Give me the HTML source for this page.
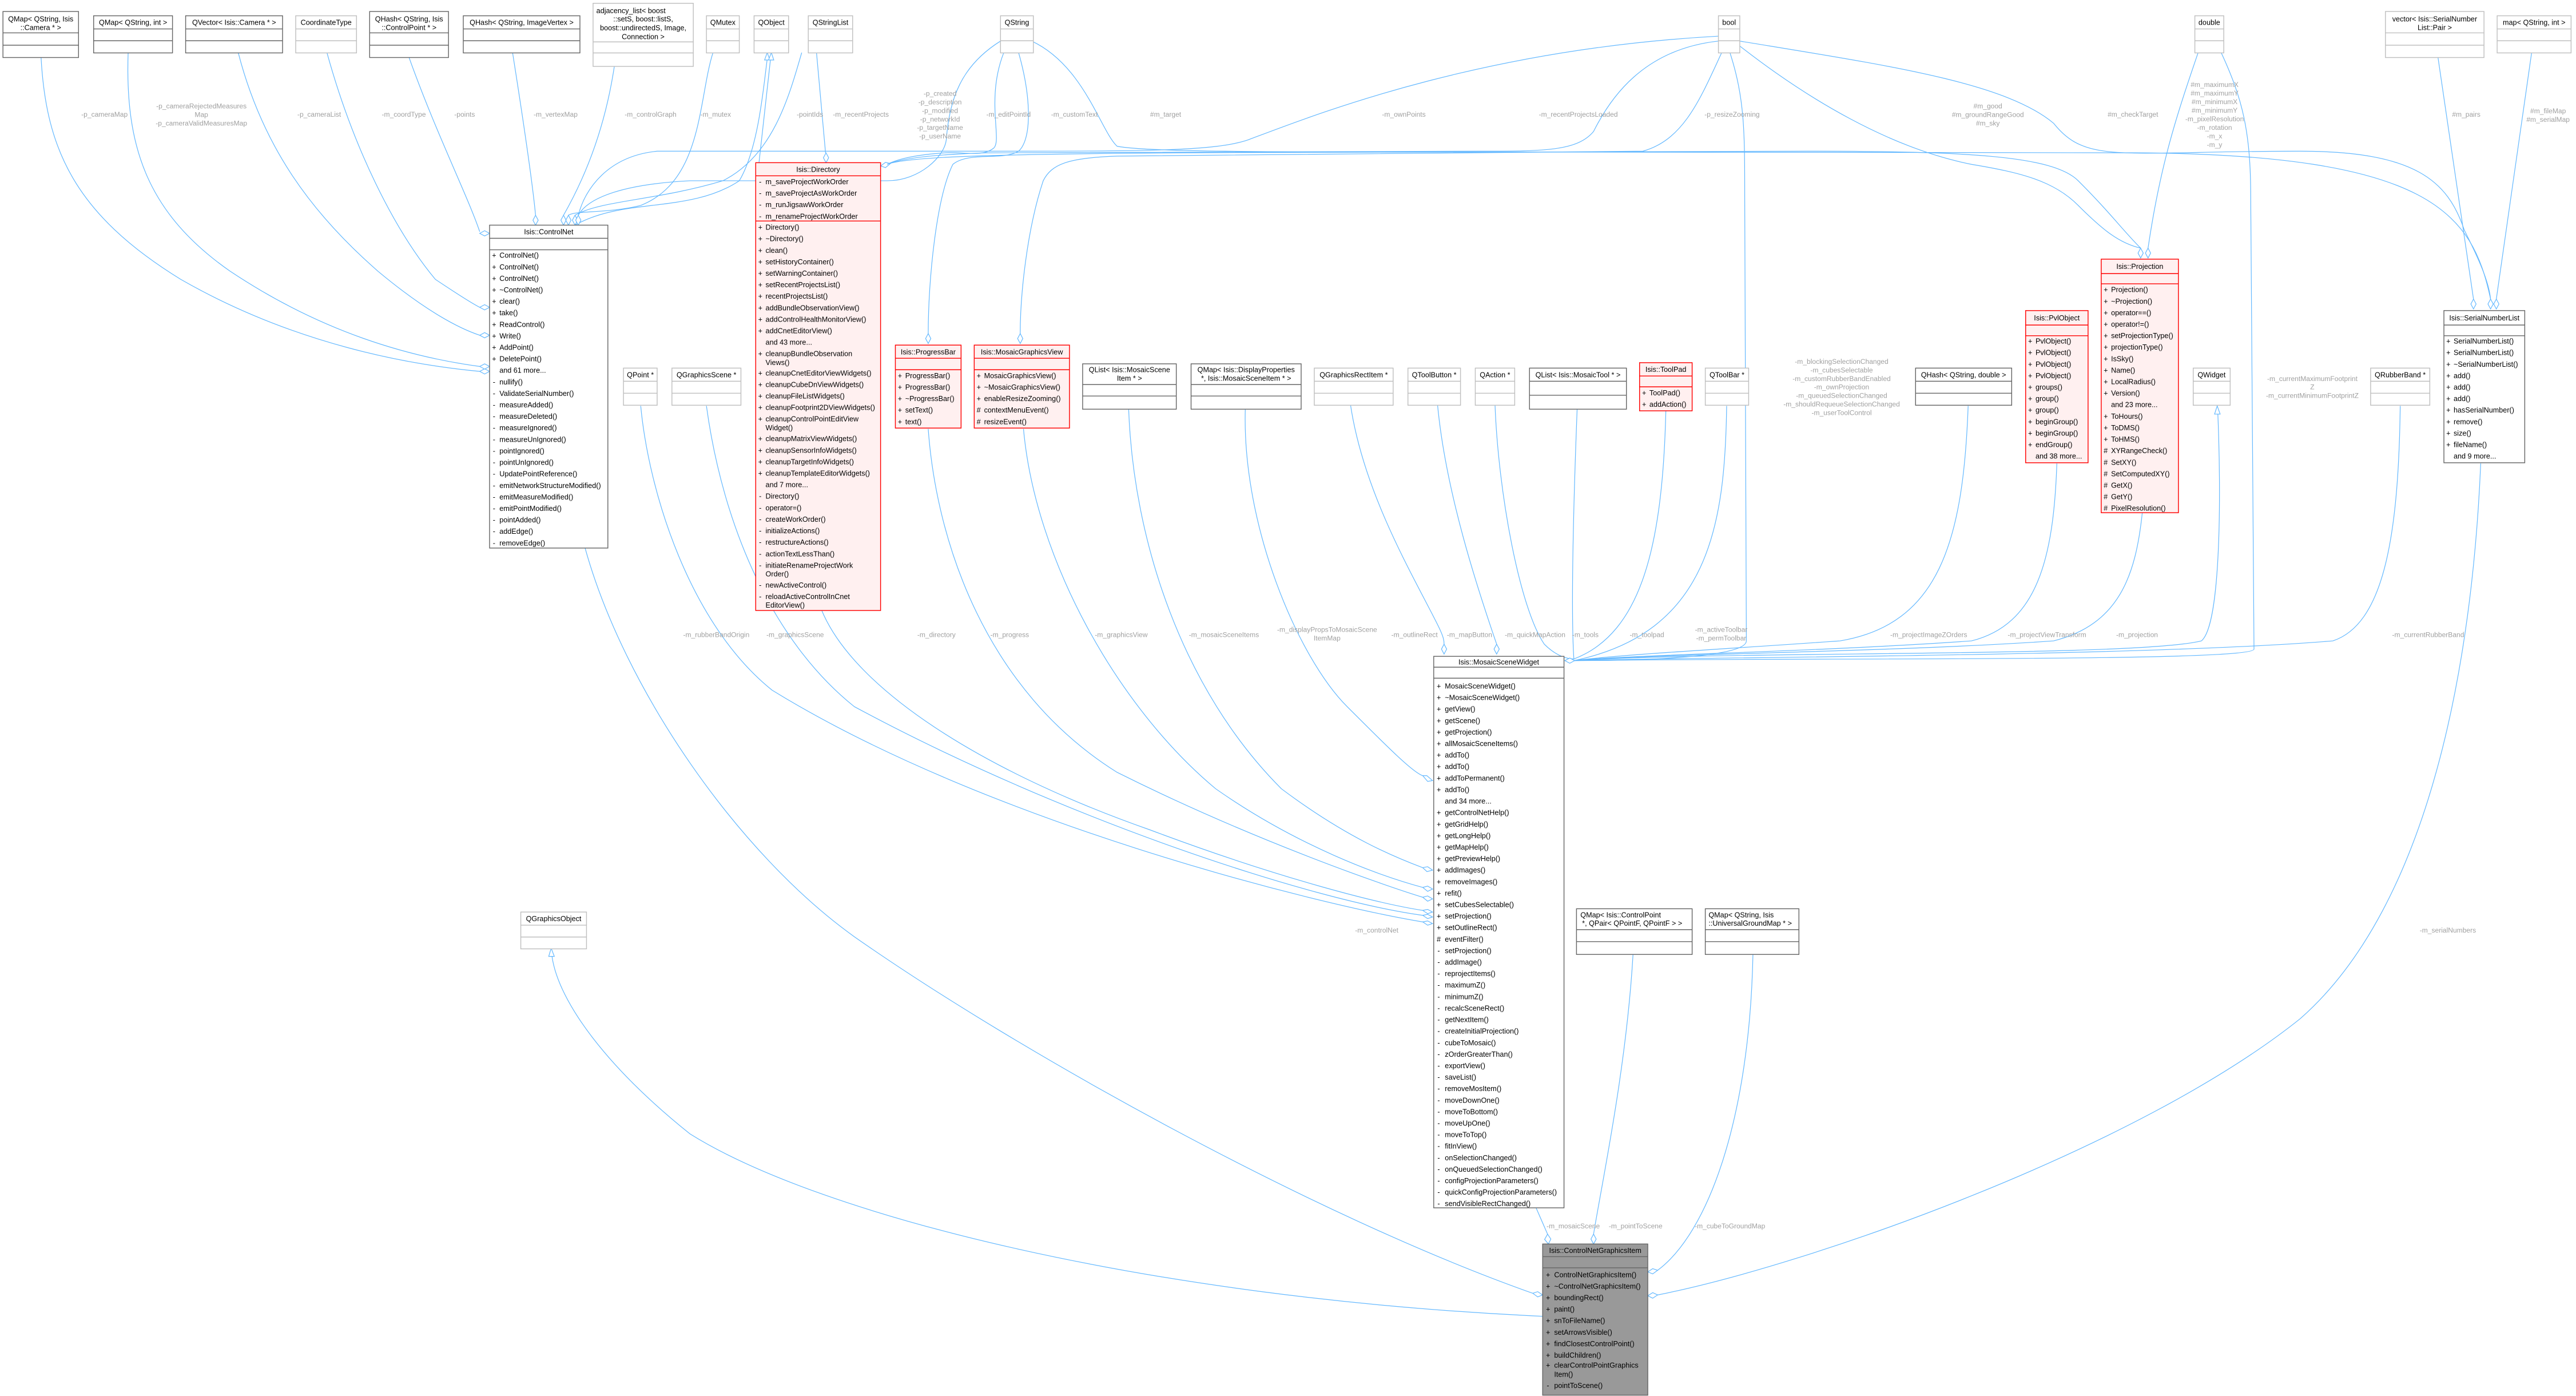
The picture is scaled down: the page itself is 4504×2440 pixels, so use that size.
<!DOCTYPE html>
<html><head><meta charset="utf-8"><style>
html,body{margin:0;padding:0;background:#fff;}
svg{display:block;}
text{font-family:"Liberation Sans",sans-serif;font-size:4.4px;fill:#000;}
.h{text-anchor:middle;}
.l{fill:#a0a0a0;text-anchor:middle;font-size:4.2px;}
.e{fill:none;stroke:#63b8ff;stroke-width:0.42;}
.dm{fill:#fff;stroke:#63b8ff;stroke-width:0.42;}
.bd{fill:#fff;stroke:#666;stroke-width:0.5;}
.bl{fill:#fff;stroke:#bfbfbf;stroke-width:0.5;}
.br{fill:#fff0f0;stroke:#ff0000;stroke-width:0.5;}
.bg{fill:#999;stroke:#666;stroke-width:0.5;}
.sd{stroke:#666;stroke-width:0.5;}
.sl{stroke:#bfbfbf;stroke-width:0.5;}
.sr{stroke:#ff0000;stroke-width:0.5;}
</style></head><body>
<svg width="4504" height="2440" viewBox="0 0 1568 849.5" preserveAspectRatio="none" xmlns="http://www.w3.org/2000/svg">

<!-- ================= EDGES ================= -->
<g>
<path class="e" d="M25,35 C28,90 45,130 110,170 C180,210 250,222 292,226"/>
<polygon class="dm" points="298,226 295,224.4 292,226 295,227.6"/>
<path class="e" d="M78,32 C76,90 90,130 140,165 C200,205 255,218 292,223"/>
<polygon class="dm" points="298,223 295,221.4 292,223 295,224.6"/>
<path class="e" d="M145,32 C160,90 190,130 230,165 C260,190 280,200 292,204"/>
<polygon class="dm" points="298,204 295,202.4 292,204 295,205.6"/>
<path class="e" d="M199,32 C215,90 240,140 265,170 C280,180 288,185 292,187"/>
<polygon class="dm" points="298,187 295,185.4 292,187 295,188.6"/>
<path class="e" d="M249,35 C265,80 285,120 292,141"/>
<polygon class="dm" points="298,142 295,140.4 292,142 295,143.6"/>
<path class="e" d="M312,32 C318,70 324,110 326,131"/>
<polygon class="dm" points="326,137 324.4,134 326,131 327.6,134"/>
<path class="e" d="M374,40 C368,80 355,110 343,131"/>
<polygon class="dm" points="343,137 341.4,134 343,131 344.6,134"/>
<path class="e" d="M434,32 C425,60 428,110 390,125 C370,130 350,128 346,131"/>
<polygon class="dm" points="346,137 344.4,134 346,131 347.6,134"/>
<path class="e" d="M350,137 C380,120 420,130 450,110 C462,90 465,50 467,36"/>
<polygon class="dm" points="467,32 465.4,36.5 468.6,36.5"/>
<path class="e" d="M462,99 L469,36"/>
<polygon class="dm" points="469.5,32 467.8,36.5 471,36.5"/>
<path class="e" d="M488,32 C480,60 470,95 440,110 C400,122 365,122 350,131"/>
<polygon class="dm" points="350,137 348.4,134 350,131 351.6,134"/>
<path class="e" d="M497,32 L502.5,93"/>
<polygon class="dm" points="502.8,99 501.2,96 502.8,93 504.4,96"/>
<path class="e" d="M609,25 C585,40 578,60 576,85 C575,95 560,110 540,110 L420,110 C380,112 358,120 352,131"/>
<polygon class="dm" points="352,137 350.4,134 352,131 353.6,134"/>
<path class="e" d="M611,32 C600,60 610,85 605,90 C598,96 585,92 575,93 C560,94 548,96 540,100"/>
<polygon class="dm" points="536,101 539,98.8 542,99.5 539,102"/>
<path class="e" d="M620,32 C628,60 628,85 620,92 C610,98 590,92 580,100 C570,120 565,170 565,203"/>
<polygon class="dm" points="565,209 563.4,206 565,203 566.6,206"/>
<path class="e" d="M628,25 C660,40 670,80 680,89 C700,93 800,93 1100,92 C1200,92 1250,95 1265,110 C1285,130 1292,140 1303,151"/>
<polygon class="dm" points="1303,157 1301.4,154 1303,151 1304.6,154"/>
<path class="e" d="M1046,22 C900,30 800,70 760,85 C740,92 700,92 600,92 L400,92 C370,95 356,115 352,131"/>
<path class="e" d="M1046,25 C1000,30 980,60 970,80 C960,92 940,92 900,92 L600,93 C570,94 550,96 540,100"/>
<path class="e" d="M1048,32 C1035,60 1025,85 1000,92 L680,95 C650,96 640,100 635,110 C625,140 621,180 621,203"/>
<polygon class="dm" points="621,209 619.4,206 621,203 622.6,206"/>
<path class="e" d="M1059,28 C1100,60 1150,90 1200,100 C1230,105 1250,110 1265,125 C1280,140 1290,148 1303,151"/>
<path class="e" d="M1059,25 C1150,40 1220,50 1250,75 C1270,100 1290,92 1400,92 C1470,92 1490,110 1500,140 C1510,160 1515,172 1516,182"/>
<path class="e" d="M540,100 C560,92 700,92 1300,93 C1480,94 1505,130 1516,182"/>
<polygon class="dm" points="1516,188 1514.4,185 1516,182 1517.6,185"/>
<path class="e" d="M1053,32 C1062,60 1062,80 1062,120 L1063,390 C1063,400 1000,402 958,402"/>
<path class="e" d="M1338,32 C1325,70 1315,100 1307.5,151"/>
<polygon class="dm" points="1307.5,157 1305.9,154 1307.5,151 1309.1,154"/>
<path class="e" d="M1352,32 C1365,60 1370,80 1370,120 L1372,395 C1372,403 1100,400 958,402"/>
<path class="e" d="M1484,35 L1505.6,182"/>
<polygon class="dm" points="1505.6,188 1504,185 1505.6,182 1507.2,185"/>
<path class="e" d="M1541,32 L1519.5,182"/>
<polygon class="dm" points="1519.5,188 1517.9,185 1519.5,182 1521.1,185"/>

<!-- to MosaicSceneWidget -->
<path class="e" d="M390,247 C395,300 420,380 470,420 C600,500 800,550 866,561"/>
<polygon class="dm" points="872,562 869,560.4 866,561 869,563"/>
<path class="e" d="M430,247 C440,320 470,390 520,430 C650,500 800,548 866,557"/>
<polygon class="dm" points="872,558 869,556.4 866,557 869,559"/>
<path class="e" d="M500,371 C520,420 600,470 700,505 C780,535 840,550 866,554"/>
<polygon class="dm" points="872,555 869,553.4 866,554 869,556"/>
<path class="e" d="M565,261 C570,330 600,420 680,470 C760,510 840,538 866,546"/>
<polygon class="dm" points="872,547 869,545.2 866,546 869,548.4"/>
<path class="e" d="M623,261 C630,340 680,430 740,480 C790,515 840,533 866,540"/>
<polygon class="dm" points="872,541 869,539.2 866,540 869,542.4"/>
<path class="e" d="M687,249 C690,330 720,420 780,480 C820,510 850,522 866,528"/>
<polygon class="dm" points="872,529.5 869,527.4 866,528 868.6,530.4"/>
<path class="e" d="M758,249 C756,320 790,400 820,430 C845,455 860,470 866,472"/>
<polygon class="dm" points="872,475 868.5,472 866,472 869,475.5"/>
<path class="e" d="M822,246 C830,300 860,350 875,380 C879,388 879,390 879,392"/>
<polygon class="dm" points="879,398 877.4,395 879,392 880.6,395"/>
<path class="e" d="M875,246 C880,300 900,360 911,392"/>
<polygon class="dm" points="911,398 909.4,395 911,392 912.6,395"/>
<path class="e" d="M910,246 C912,300 925,370 940,392 C948,400 955,401 958,401"/>
<path class="e" d="M960,249 C958,300 956,370 958,401"/>
<path class="e" d="M1014,250 C1012,330 1000,385 958,401"/>
<path class="e" d="M1051,247 C1050,320 1040,385 958,402"/>
<path class="e" d="M1198,247 C1195,330 1180,380 1120,390 C1050,395 990,398 958,402"/>
<path class="e" d="M1252,282 C1250,340 1240,380 1200,390 C1100,397 1000,398 958,402"/>
<path class="e" d="M1304,312 C1300,350 1290,380 1250,390 C1150,397 1000,398 958,402"/>
<path class="e" d="M958,402 C1050,396 1300,400 1340,390 C1352,380 1352,300 1350,252"/>
<polygon class="dm" points="1349.6,247 1348,252 1351.4,252"/>
<path class="e" d="M1461,247 C1460,330 1450,380 1420,390 C1300,400 1000,400 958,402"/>
<polygon class="dm" points="952.5,402 955.5,400.4 958.5,402 955.5,403.6"/>

<!-- to ControlNetGraphicsItem -->
<path class="e" d="M356,333 C380,420 450,520 520,570 C620,640 800,740 933,787"/>
<polygon class="dm" points="939,788 936,786 933,787 936,789.2"/>
<path class="e" d="M939,801 C700,790 500,740 420,690 C370,650 340,610 336,582"/>
<polygon class="dm" points="335.5,577 334,582 337.4,582"/>
<path class="e" d="M935,735 L942,751"/>
<polygon class="dm" points="942.5,757 940.2,754.2 942,751 944,754"/>
<path class="e" d="M994,581 C990,650 975,720 970,751"/>
<polygon class="dm" points="970,757 968.4,754 970,751 971.6,754"/>
<path class="e" d="M1067,581 C1065,680 1040,750 1009,773"/>
<polygon class="dm" points="1003,774 1006,772 1009,773 1006,775.2"/>
<path class="e" d="M1510,282 C1505,400 1480,550 1400,620 C1300,700 1100,770 1009,788"/>
<polygon class="dm" points="1003,788.5 1006,786.6 1009,788 1006,790"/>
</g>

<!-- ================= EDGE LABELS ================= -->
<g>
<text class="l" x="63.6" y="71">-p_cameraMap</text>
<text class="l" x="122.6" y="66">-p_cameraRejectedMeasures</text>
<text class="l" x="122.6" y="71.2">Map</text>
<text class="l" x="122.6" y="76.4">-p_cameraValidMeasuresMap</text>
<text class="l" x="194.3" y="71">-p_cameraList</text>
<text class="l" x="245.8" y="71">-m_coordType</text>
<text class="l" x="282.8" y="71">-points</text>
<text class="l" x="338.2" y="71">-m_vertexMap</text>
<text class="l" x="396" y="71">-m_controlGraph</text>
<text class="l" x="435.6" y="71">-m_mutex</text>
<text class="l" x="493" y="71">-pointIds</text>
<text class="l" x="524" y="71">-m_recentProjects</text>
<text class="l" x="572.2" y="58.3">-p_created</text>
<text class="l" x="572.2" y="63.5">-p_description</text>
<text class="l" x="572.2" y="68.7">-p_modified</text>
<text class="l" x="572.2" y="73.9">-p_networkId</text>
<text class="l" x="572.2" y="79.1">-p_targetName</text>
<text class="l" x="572.2" y="84.3">-p_userName</text>
<text class="l" x="613.9" y="71">-m_editPointId</text>
<text class="l" x="654" y="71">-m_customText</text>
<text class="l" x="709.5" y="71">#m_target</text>
<text class="l" x="854.5" y="71">-m_ownPoints</text>
<text class="l" x="960.7" y="71">-m_recentProjectsLoaded</text>
<text class="l" x="1054.3" y="71">-p_resizeZooming</text>
<text class="l" x="1210" y="66">#m_good</text>
<text class="l" x="1210" y="71.2">#m_groundRangeGood</text>
<text class="l" x="1210" y="76.4">#m_sky</text>
<text class="l" x="1298.3" y="71">#m_checkTarget</text>
<text class="l" x="1348" y="53">#m_maximumX</text>
<text class="l" x="1348" y="58.2">#m_maximumY</text>
<text class="l" x="1348" y="63.4">#m_minimumX</text>
<text class="l" x="1348" y="68.6">#m_minimumY</text>
<text class="l" x="1348" y="73.8">-m_pixelResolution</text>
<text class="l" x="1348" y="79">-m_rotation</text>
<text class="l" x="1348" y="84.2">-m_x</text>
<text class="l" x="1348" y="89.4">-m_y</text>
<text class="l" x="1501.2" y="71">#m_pairs</text>
<text class="l" x="1551" y="69">#m_fileMap</text>
<text class="l" x="1551" y="74.2">#m_serialMap</text>
<text class="l" x="1121" y="221.4">-m_blockingSelectionChanged</text>
<text class="l" x="1121" y="226.6">-m_cubesSelectable</text>
<text class="l" x="1121" y="231.8">-m_customRubberBandEnabled</text>
<text class="l" x="1121" y="237">-m_ownProjection</text>
<text class="l" x="1121" y="242.2">-m_queuedSelectionChanged</text>
<text class="l" x="1121" y="247.4">-m_shouldRequeueSelectionChanged</text>
<text class="l" x="1121" y="252.6">-m_userToolControl</text>
<text class="l" x="1407.5" y="231.8">-m_currentMaximumFootprint</text>
<text class="l" x="1407.5" y="237">Z</text>
<text class="l" x="1407.5" y="242.2">-m_currentMinimumFootprintZ</text>
<text class="l" x="436" y="387.7">-m_rubberBandOrigin</text>
<text class="l" x="484" y="387.7">-m_graphicsScene</text>
<text class="l" x="570" y="387.7">-m_directory</text>
<text class="l" x="614.6" y="387.7">-m_progress</text>
<text class="l" x="682.5" y="387.7">-m_graphicsView</text>
<text class="l" x="745" y="387.7">-m_mosaicSceneItems</text>
<text class="l" x="807.8" y="384.5">-m_displayPropsToMosaicScene</text>
<text class="l" x="807.8" y="389.7">ItemMap</text>
<text class="l" x="861" y="387.7">-m_outlineRect</text>
<text class="l" x="894.5" y="387.7">-m_mapButton</text>
<text class="l" x="934.4" y="387.7">-m_quickMapAction</text>
<text class="l" x="965" y="387.7">-m_tools</text>
<text class="l" x="1002.5" y="387.7">-m_toolpad</text>
<text class="l" x="1047.7" y="384.5">-m_activeToolbar</text>
<text class="l" x="1047.7" y="389.7">-m_permToolbar</text>
<text class="l" x="1174" y="387.7">-m_projectImageZOrders</text>
<text class="l" x="1246" y="387.7">-m_projectViewTransform</text>
<text class="l" x="1300.8" y="387.7">-m_projection</text>
<text class="l" x="1478" y="387.7">-m_currentRubberBand</text>
<text class="l" x="838" y="567.5">-m_controlNet</text>
<text class="l" x="1490" y="567.5">-m_serialNumbers</text>
<text class="l" x="957.6" y="747.5">-m_mosaicScene</text>
<text class="l" x="995.6" y="747.5">-m_pointToScene</text>
<text class="l" x="1053" y="747.5">-m_cubeToGroundMap</text>
</g>

<!-- ================= TOP ROW BOXES ================= -->
<g>
<rect class="bd" x="1.8" y="7" width="46" height="28"/>
<line class="sd" x1="1.8" y1="20" x2="47.8" y2="20"/><line class="sd" x1="1.8" y1="27.5" x2="47.8" y2="27.5"/>
<text class="h" x="24.8" y="13">QMap&lt; QString, Isis</text><text class="h" x="24.8" y="18.3">::Camera * &gt;</text>

<rect class="bd" x="57" y="9.6" width="48" height="22.6"/>
<line class="sd" x1="57" y1="17.6" x2="105" y2="17.6"/><line class="sd" x1="57" y1="24.8" x2="105" y2="24.8"/>
<text class="h" x="81" y="15.2">QMap&lt; QString, int &gt;</text>

<rect class="bd" x="113" y="9.6" width="59" height="22.6"/>
<line class="sd" x1="113" y1="17.6" x2="172" y2="17.6"/><line class="sd" x1="113" y1="24.8" x2="172" y2="24.8"/>
<text class="h" x="142.5" y="15.2">QVector&lt; Isis::Camera * &gt;</text>

<rect class="bl" x="180" y="9.6" width="37" height="22.6"/>
<line class="sl" x1="180" y1="17.6" x2="217" y2="17.6"/><line class="sl" x1="180" y1="24.8" x2="217" y2="24.8"/>
<text class="h" x="198.5" y="15.2">CoordinateType</text>

<rect class="bd" x="225" y="7" width="48" height="28"/>
<line class="sd" x1="225" y1="20" x2="273" y2="20"/><line class="sd" x1="225" y1="27.5" x2="273" y2="27.5"/>
<text class="h" x="249" y="13">QHash&lt; QString, Isis</text><text class="h" x="249" y="18.3">::ControlPoint * &gt;</text>

<rect class="bd" x="282" y="9.6" width="71" height="22.6"/>
<line class="sd" x1="282" y1="17.6" x2="353" y2="17.6"/><line class="sd" x1="282" y1="24.8" x2="353" y2="24.8"/>
<text class="h" x="317.5" y="15.2">QHash&lt; QString, ImageVertex &gt;</text>

<rect class="bl" x="361" y="2" width="61" height="38.4"/>
<line class="sl" x1="361" y1="25.5" x2="422" y2="25.5"/><line class="sl" x1="361" y1="32.2" x2="422" y2="32.2"/>
<text x="363" y="8">adjacency_list&lt; boost</text>
<text class="h" x="391.5" y="13.1">::setS, boost::listS,</text>
<text class="h" x="391.5" y="18.5">boost::undirectedS, Image,</text>
<text class="h" x="391.5" y="23.8">Connection &gt;</text>

<rect class="bl" x="430" y="9.6" width="20" height="22.6"/>
<line class="sl" x1="430" y1="17.6" x2="450" y2="17.6"/><line class="sl" x1="430" y1="24.8" x2="450" y2="24.8"/>
<text class="h" x="440" y="15.2">QMutex</text>

<rect class="bl" x="459" y="9.6" width="21" height="22.6"/>
<line class="sl" x1="459" y1="17.6" x2="480" y2="17.6"/><line class="sl" x1="459" y1="24.8" x2="480" y2="24.8"/>
<text class="h" x="469.5" y="15.2">QObject</text>

<rect class="bl" x="492" y="9.6" width="27" height="22.6"/>
<line class="sl" x1="492" y1="17.6" x2="519" y2="17.6"/><line class="sl" x1="492" y1="24.8" x2="519" y2="24.8"/>
<text class="h" x="505.5" y="15.2">QStringList</text>

<rect class="bl" x="609" y="9.6" width="20" height="22.6"/>
<line class="sl" x1="609" y1="17.6" x2="629" y2="17.6"/><line class="sl" x1="609" y1="24.8" x2="629" y2="24.8"/>
<text class="h" x="619" y="15.2">QString</text>

<rect class="bl" x="1046" y="9.6" width="13" height="22.6"/>
<line class="sl" x1="1046" y1="17.6" x2="1059" y2="17.6"/><line class="sl" x1="1046" y1="24.8" x2="1059" y2="24.8"/>
<text class="h" x="1052.5" y="15.2">bool</text>

<rect class="bl" x="1336" y="9.6" width="17.6" height="22.6"/>
<line class="sl" x1="1336" y1="17.6" x2="1353.6" y2="17.6"/><line class="sl" x1="1336" y1="24.8" x2="1353.6" y2="24.8"/>
<text class="h" x="1344.8" y="15.2">double</text>

<rect class="bl" x="1452" y="7" width="60" height="28"/>
<line class="sl" x1="1452" y1="20" x2="1512" y2="20"/><line class="sl" x1="1452" y1="27.5" x2="1512" y2="27.5"/>
<text class="h" x="1482" y="13">vector&lt; Isis::SerialNumber</text><text class="h" x="1482" y="18.3">List::Pair &gt;</text>

<rect class="bl" x="1520" y="9.6" width="45" height="22.6"/>
<line class="sl" x1="1520" y1="17.6" x2="1565" y2="17.6"/><line class="sl" x1="1520" y1="24.8" x2="1565" y2="24.8"/>
<text class="h" x="1542.5" y="15.2">map&lt; QString, int &gt;</text>
</g>

<!-- ================= ControlNet ================= -->
<g>
<rect class="bd" x="298" y="137" width="72" height="196.5"/>
<line class="sd" x1="298" y1="145" x2="370" y2="145"/><line class="sd" x1="298" y1="152" x2="370" y2="152"/>
<text class="h" x="334" y="142.6">Isis::ControlNet</text>
<text x="299.5" y="156.9">+</text><text x="304" y="156.9">ControlNet()</text>
<text x="299.5" y="163.9">+</text><text x="304" y="163.9">ControlNet()</text>
<text x="299.5" y="170.9">+</text><text x="304" y="170.9">ControlNet()</text>
<text x="299.5" y="177.9">+</text><text x="304" y="177.9">~ControlNet()</text>
<text x="299.5" y="184.9">+</text><text x="304" y="184.9">clear()</text>
<text x="299.5" y="191.9">+</text><text x="304" y="191.9">take()</text>
<text x="299.5" y="198.9">+</text><text x="304" y="198.9">ReadControl()</text>
<text x="299.5" y="205.9">+</text><text x="304" y="205.9">Write()</text>
<text x="299.5" y="212.9">+</text><text x="304" y="212.9">AddPoint()</text>
<text x="299.5" y="219.9">+</text><text x="304" y="219.9">DeletePoint()</text>
<text x="304" y="226.9">and 61 more...</text>
<text x="300" y="233.9">-</text><text x="304" y="233.9">nullify()</text>
<text x="300" y="240.9">-</text><text x="304" y="240.9">ValidateSerialNumber()</text>
<text x="300" y="247.9">-</text><text x="304" y="247.9">measureAdded()</text>
<text x="300" y="254.9">-</text><text x="304" y="254.9">measureDeleted()</text>
<text x="300" y="261.9">-</text><text x="304" y="261.9">measureIgnored()</text>
<text x="300" y="268.9">-</text><text x="304" y="268.9">measureUnIgnored()</text>
<text x="300" y="275.9">-</text><text x="304" y="275.9">pointIgnored()</text>
<text x="300" y="282.9">-</text><text x="304" y="282.9">pointUnIgnored()</text>
<text x="300" y="289.9">-</text><text x="304" y="289.9">UpdatePointReference()</text>
<text x="300" y="296.9">-</text><text x="304" y="296.9">emitNetworkStructureModified()</text>
<text x="300" y="303.9">-</text><text x="304" y="303.9">emitMeasureModified()</text>
<text x="300" y="310.9">-</text><text x="304" y="310.9">emitPointModified()</text>
<text x="300" y="317.9">-</text><text x="304" y="317.9">pointAdded()</text>
<text x="300" y="324.9">-</text><text x="304" y="324.9">addEdge()</text>
<text x="300" y="331.9">-</text><text x="304" y="331.9">removeEdge()</text>
</g>

<!-- ================= Directory ================= -->
<g>
<rect class="br" x="460" y="99" width="76" height="272.5"/>
<line class="sr" x1="460" y1="107" x2="536" y2="107"/><line class="sr" x1="460" y1="134.5" x2="536" y2="134.5"/>
<text class="h" x="498" y="104.6">Isis::Directory</text>
<text x="462" y="112.1">-</text><text x="466" y="112.1">m_saveProjectWorkOrder</text>
<text x="462" y="119.1">-</text><text x="466" y="119.1">m_saveProjectAsWorkOrder</text>
<text x="462" y="126.1">-</text><text x="466" y="126.1">m_runJigsawWorkOrder</text>
<text x="462" y="133.1">-</text><text x="466" y="133.1">m_renameProjectWorkOrder</text>
<text x="461.5" y="139.8">+</text><text x="466" y="139.8">Directory()</text>
<text x="461.5" y="146.8">+</text><text x="466" y="146.8">~Directory()</text>
<text x="461.5" y="153.8">+</text><text x="466" y="153.8">clean()</text>
<text x="461.5" y="160.8">+</text><text x="466" y="160.8">setHistoryContainer()</text>
<text x="461.5" y="167.8">+</text><text x="466" y="167.8">setWarningContainer()</text>
<text x="461.5" y="174.8">+</text><text x="466" y="174.8">setRecentProjectsList()</text>
<text x="461.5" y="181.8">+</text><text x="466" y="181.8">recentProjectsList()</text>
<text x="461.5" y="188.8">+</text><text x="466" y="188.8">addBundleObservationView()</text>
<text x="461.5" y="195.8">+</text><text x="466" y="195.8">addControlHealthMonitorView()</text>
<text x="461.5" y="202.8">+</text><text x="466" y="202.8">addCnetEditorView()</text>
<text x="466" y="209.8">and 43 more...</text>
<text x="461.5" y="216.8">+</text><text x="466" y="216.8">cleanupBundleObservation</text><text x="466" y="222.1">Views()</text>
<text x="461.5" y="228.5">+</text><text x="466" y="228.5">cleanupCnetEditorViewWidgets()</text>
<text x="461.5" y="235.5">+</text><text x="466" y="235.5">cleanupCubeDnViewWidgets()</text>
<text x="461.5" y="242.5">+</text><text x="466" y="242.5">cleanupFileListWidgets()</text>
<text x="461.5" y="249.5">+</text><text x="466" y="249.5">cleanupFootprint2DViewWidgets()</text>
<text x="461.5" y="256.5">+</text><text x="466" y="256.5">cleanupControlPointEditView</text><text x="466" y="261.8">Widget()</text>
<text x="461.5" y="268.5">+</text><text x="466" y="268.5">cleanupMatrixViewWidgets()</text>
<text x="461.5" y="275.5">+</text><text x="466" y="275.5">cleanupSensorInfoWidgets()</text>
<text x="461.5" y="282.5">+</text><text x="466" y="282.5">cleanupTargetInfoWidgets()</text>
<text x="461.5" y="289.5">+</text><text x="466" y="289.5">cleanupTemplateEditorWidgets()</text>
<text x="466" y="296.5">and 7 more...</text>
<text x="462" y="303.5">-</text><text x="466" y="303.5">Directory()</text>
<text x="462" y="310.5">-</text><text x="466" y="310.5">operator=()</text>
<text x="462" y="317.5">-</text><text x="466" y="317.5">createWorkOrder()</text>
<text x="462" y="324.5">-</text><text x="466" y="324.5">initializeActions()</text>
<text x="462" y="331.5">-</text><text x="466" y="331.5">restructureActions()</text>
<text x="462" y="338.5">-</text><text x="466" y="338.5">actionTextLessThan()</text>
<text x="462" y="345.5">-</text><text x="466" y="345.5">initiateRenameProjectWork</text><text x="466" y="350.8">Order()</text>
<text x="462" y="357.5">-</text><text x="466" y="357.5">newActiveControl()</text>
<text x="462" y="364.5">-</text><text x="466" y="364.5">reloadActiveControlInCnet</text><text x="466" y="369.8">EditorView()</text>
</g>

<!-- ================= ProgressBar / MosaicGraphicsView ================= -->
<g>
<rect class="br" x="545" y="210" width="40" height="50.5"/>
<line class="sr" x1="545" y1="218" x2="585" y2="218"/><line class="sr" x1="545" y1="225" x2="585" y2="225"/>
<text class="h" x="565" y="215.6">Isis::ProgressBar</text>
<text x="546.5" y="230.1">+</text><text x="551" y="230.1">ProgressBar()</text>
<text x="546.5" y="237.1">+</text><text x="551" y="237.1">ProgressBar()</text>
<text x="546.5" y="244.1">+</text><text x="551" y="244.1">~ProgressBar()</text>
<text x="546.5" y="251.1">+</text><text x="551" y="251.1">setText()</text>
<text x="546.5" y="258.1">+</text><text x="551" y="258.1">text()</text>

<rect class="br" x="593" y="210" width="58" height="50.5"/>
<line class="sr" x1="593" y1="218" x2="651" y2="218"/><line class="sr" x1="593" y1="225" x2="651" y2="225"/>
<text class="h" x="622" y="215.6">Isis::MosaicGraphicsView</text>
<text x="594.5" y="230.1">+</text><text x="599" y="230.1">MosaicGraphicsView()</text>
<text x="594.5" y="237.1">+</text><text x="599" y="237.1">~MosaicGraphicsView()</text>
<text x="594.5" y="244.1">+</text><text x="599" y="244.1">enableResizeZooming()</text>
<text x="594.5" y="251.1">#</text><text x="599" y="251.1">contextMenuEvent()</text>
<text x="594.5" y="258.1">#</text><text x="599" y="258.1">resizeEvent()</text>
</g>

<!-- ================= middle row small boxes ================= -->
<g>
<rect class="bl" x="379.5" y="224" width="20.5" height="22.6"/>
<line class="sl" x1="379.5" y1="232" x2="400" y2="232"/><line class="sl" x1="379.5" y1="239.3" x2="400" y2="239.3"/>
<text class="h" x="389.8" y="229.6">QPoint *</text>

<rect class="bl" x="409" y="224" width="42" height="22.6"/>
<line class="sl" x1="409" y1="232" x2="451" y2="232"/><line class="sl" x1="409" y1="239.3" x2="451" y2="239.3"/>
<text class="h" x="430" y="229.6">QGraphicsScene *</text>

<rect class="bd" x="659" y="221.4" width="57" height="27.6"/>
<line class="sd" x1="659" y1="234" x2="716" y2="234"/><line class="sd" x1="659" y1="241" x2="716" y2="241"/>
<text class="h" x="687.5" y="226.5">QList&lt; Isis::MosaicScene</text><text class="h" x="687.5" y="231.7">Item * &gt;</text>

<rect class="bd" x="725" y="221.4" width="67" height="27.6"/>
<line class="sd" x1="725" y1="234" x2="792" y2="234"/><line class="sd" x1="725" y1="241" x2="792" y2="241"/>
<text class="h" x="758.5" y="226.5">QMap&lt; Isis::DisplayProperties</text><text class="h" x="758.5" y="231.7">*, Isis::MosaicSceneItem * &gt;</text>

<rect class="bl" x="800" y="224" width="48" height="22.6"/>
<line class="sl" x1="800" y1="232" x2="848" y2="232"/><line class="sl" x1="800" y1="239.3" x2="848" y2="239.3"/>
<text class="h" x="824" y="229.6">QGraphicsRectItem *</text>

<rect class="bl" x="857" y="224" width="32" height="22.6"/>
<line class="sl" x1="857" y1="232" x2="889" y2="232"/><line class="sl" x1="857" y1="239.3" x2="889" y2="239.3"/>
<text class="h" x="873" y="229.6">QToolButton *</text>

<rect class="bl" x="898" y="224" width="24" height="22.6"/>
<line class="sl" x1="898" y1="232" x2="922" y2="232"/><line class="sl" x1="898" y1="239.3" x2="922" y2="239.3"/>
<text class="h" x="910" y="229.6">QAction *</text>

<rect class="bd" x="931" y="224" width="59" height="25"/>
<line class="sd" x1="931" y1="232" x2="990" y2="232"/><line class="sd" x1="931" y1="240.5" x2="990" y2="240.5"/>
<text class="h" x="960.5" y="229.6">QList&lt; Isis::MosaicTool * &gt;</text>

<rect class="br" x="998" y="220.7" width="32" height="29.3"/>
<line class="sr" x1="998" y1="228.8" x2="1030" y2="228.8"/><line class="sr" x1="998" y1="235.4" x2="1030" y2="235.4"/>
<text class="h" x="1014" y="226.3">Isis::ToolPad</text>
<text x="999.5" y="240.5">+</text><text x="1004" y="240.5">ToolPad()</text>
<text x="999.5" y="247.5">+</text><text x="1004" y="247.5">addAction()</text>

<rect class="bl" x="1038" y="224" width="26.4" height="22.6"/>
<line class="sl" x1="1038" y1="232" x2="1064.4" y2="232"/><line class="sl" x1="1038" y1="239.3" x2="1064.4" y2="239.3"/>
<text class="h" x="1051.2" y="229.6">QToolBar *</text>

<rect class="bd" x="1166" y="224" width="58.5" height="22.6"/>
<line class="sd" x1="1166" y1="232" x2="1224.5" y2="232"/><line class="sd" x1="1166" y1="239.3" x2="1224.5" y2="239.3"/>
<text class="h" x="1195.2" y="229.6">QHash&lt; QString, double &gt;</text>

<rect class="bl" x="1335" y="224" width="22.5" height="22.6"/>
<line class="sl" x1="1335" y1="232" x2="1357.5" y2="232"/><line class="sl" x1="1335" y1="239.3" x2="1357.5" y2="239.3"/>
<text class="h" x="1346.2" y="229.6">QWidget</text>

<rect class="bl" x="1443" y="224" width="36" height="22.6"/>
<line class="sl" x1="1443" y1="232" x2="1479" y2="232"/><line class="sl" x1="1443" y1="239.3" x2="1479" y2="239.3"/>
<text class="h" x="1461" y="229.6">QRubberBand *</text>
</g>

<!-- ================= PvlObject ================= -->
<g>
<rect class="br" x="1233" y="189" width="38" height="92.6"/>
<line class="sr" x1="1233" y1="197.8" x2="1271" y2="197.8"/><line class="sr" x1="1233" y1="204.3" x2="1271" y2="204.3"/>
<text class="h" x="1252" y="195">Isis::PvlObject</text>
<text x="1234.5" y="209.1">+</text><text x="1239" y="209.1">PvlObject()</text>
<text x="1234.5" y="216.1">+</text><text x="1239" y="216.1">PvlObject()</text>
<text x="1234.5" y="223.1">+</text><text x="1239" y="223.1">PvlObject()</text>
<text x="1234.5" y="230.1">+</text><text x="1239" y="230.1">PvlObject()</text>
<text x="1234.5" y="237.1">+</text><text x="1239" y="237.1">groups()</text>
<text x="1234.5" y="244.1">+</text><text x="1239" y="244.1">group()</text>
<text x="1234.5" y="251.1">+</text><text x="1239" y="251.1">group()</text>
<text x="1234.5" y="258.1">+</text><text x="1239" y="258.1">beginGroup()</text>
<text x="1234.5" y="265.1">+</text><text x="1239" y="265.1">beginGroup()</text>
<text x="1234.5" y="272.1">+</text><text x="1239" y="272.1">endGroup()</text>
<text x="1239" y="279.1">and 38 more...</text>
</g>

<!-- ================= Projection ================= -->
<g>
<rect class="br" x="1279" y="157.7" width="47" height="154.3"/>
<line class="sr" x1="1279" y1="166.5" x2="1326" y2="166.5"/><line class="sr" x1="1279" y1="172.7" x2="1326" y2="172.7"/>
<text class="h" x="1302.5" y="163.6">Isis::Projection</text>
<text x="1280.5" y="177.8">+</text><text x="1285" y="177.8">Projection()</text>
<text x="1280.5" y="184.8">+</text><text x="1285" y="184.8">~Projection()</text>
<text x="1280.5" y="191.8">+</text><text x="1285" y="191.8">operator==()</text>
<text x="1280.5" y="198.8">+</text><text x="1285" y="198.8">operator!=()</text>
<text x="1280.5" y="205.8">+</text><text x="1285" y="205.8">setProjectionType()</text>
<text x="1280.5" y="212.8">+</text><text x="1285" y="212.8">projectionType()</text>
<text x="1280.5" y="219.8">+</text><text x="1285" y="219.8">IsSky()</text>
<text x="1280.5" y="226.8">+</text><text x="1285" y="226.8">Name()</text>
<text x="1280.5" y="233.8">+</text><text x="1285" y="233.8">LocalRadius()</text>
<text x="1280.5" y="240.8">+</text><text x="1285" y="240.8">Version()</text>
<text x="1285" y="247.8">and 23 more...</text>
<text x="1280.5" y="254.8">+</text><text x="1285" y="254.8">ToHours()</text>
<text x="1280.5" y="261.8">+</text><text x="1285" y="261.8">ToDMS()</text>
<text x="1280.5" y="268.8">+</text><text x="1285" y="268.8">ToHMS()</text>
<text x="1280.5" y="275.8">#</text><text x="1285" y="275.8">XYRangeCheck()</text>
<text x="1280.5" y="282.8">#</text><text x="1285" y="282.8">SetXY()</text>
<text x="1280.5" y="289.8">#</text><text x="1285" y="289.8">SetComputedXY()</text>
<text x="1280.5" y="296.8">#</text><text x="1285" y="296.8">GetX()</text>
<text x="1280.5" y="303.8">#</text><text x="1285" y="303.8">GetY()</text>
<text x="1280.5" y="310.8">#</text><text x="1285" y="310.8">PixelResolution()</text>
</g>

<!-- ================= SerialNumberList ================= -->
<g>
<rect class="bd" x="1487.6" y="189" width="49.2" height="92.6"/>
<line class="sd" x1="1487.6" y1="197.8" x2="1536.8" y2="197.8"/><line class="sd" x1="1487.6" y1="204.3" x2="1536.8" y2="204.3"/>
<text class="h" x="1512.2" y="195">Isis::SerialNumberList</text>
<text x="1489" y="209.1">+</text><text x="1493.5" y="209.1">SerialNumberList()</text>
<text x="1489" y="216.1">+</text><text x="1493.5" y="216.1">SerialNumberList()</text>
<text x="1489" y="223.1">+</text><text x="1493.5" y="223.1">~SerialNumberList()</text>
<text x="1489" y="230.1">+</text><text x="1493.5" y="230.1">add()</text>
<text x="1489" y="237.1">+</text><text x="1493.5" y="237.1">add()</text>
<text x="1489" y="244.1">+</text><text x="1493.5" y="244.1">add()</text>
<text x="1489" y="251.1">+</text><text x="1493.5" y="251.1">hasSerialNumber()</text>
<text x="1489" y="258.1">+</text><text x="1493.5" y="258.1">remove()</text>
<text x="1489" y="265.1">+</text><text x="1493.5" y="265.1">size()</text>
<text x="1489" y="272.1">+</text><text x="1493.5" y="272.1">fileName()</text>
<text x="1493.5" y="279.1">and 9 more...</text>
</g>

<!-- ================= MosaicSceneWidget ================= -->
<g>
<rect class="bd" x="872.7" y="399.4" width="79.3" height="335.6"/>
<line class="sd" x1="872.7" y1="406" x2="952" y2="406"/><line class="sd" x1="872.7" y1="412.7" x2="952" y2="412.7"/>
<text class="h" x="912.3" y="404.4">Isis::MosaicSceneWidget</text>
<text x="874.5" y="419">+</text><text x="879.5" y="419">MosaicSceneWidget()</text>
<text x="874.5" y="426">+</text><text x="879.5" y="426">~MosaicSceneWidget()</text>
<text x="874.5" y="433">+</text><text x="879.5" y="433">getView()</text>
<text x="874.5" y="440">+</text><text x="879.5" y="440">getScene()</text>
<text x="874.5" y="447">+</text><text x="879.5" y="447">getProjection()</text>
<text x="874.5" y="454">+</text><text x="879.5" y="454">allMosaicSceneItems()</text>
<text x="874.5" y="461">+</text><text x="879.5" y="461">addTo()</text>
<text x="874.5" y="468">+</text><text x="879.5" y="468">addTo()</text>
<text x="874.5" y="475">+</text><text x="879.5" y="475">addToPermanent()</text>
<text x="874.5" y="482">+</text><text x="879.5" y="482">addTo()</text>
<text x="879.5" y="489">and 34 more...</text>
<text x="874.5" y="496">+</text><text x="879.5" y="496">getControlNetHelp()</text>
<text x="874.5" y="503">+</text><text x="879.5" y="503">getGridHelp()</text>
<text x="874.5" y="510">+</text><text x="879.5" y="510">getLongHelp()</text>
<text x="874.5" y="517">+</text><text x="879.5" y="517">getMapHelp()</text>
<text x="874.5" y="524">+</text><text x="879.5" y="524">getPreviewHelp()</text>
<text x="874.5" y="531">+</text><text x="879.5" y="531">addImages()</text>
<text x="874.5" y="538">+</text><text x="879.5" y="538">removeImages()</text>
<text x="874.5" y="545">+</text><text x="879.5" y="545">refit()</text>
<text x="874.5" y="552">+</text><text x="879.5" y="552">setCubesSelectable()</text>
<text x="874.5" y="559">+</text><text x="879.5" y="559">setProjection()</text>
<text x="874.5" y="566">+</text><text x="879.5" y="566">setOutlineRect()</text>
<text x="874.5" y="573">#</text><text x="879.5" y="573">eventFilter()</text>
<text x="875" y="580">-</text><text x="879.5" y="580">setProjection()</text>
<text x="875" y="587">-</text><text x="879.5" y="587">addImage()</text>
<text x="875" y="594">-</text><text x="879.5" y="594">reprojectItems()</text>
<text x="875" y="601">-</text><text x="879.5" y="601">maximumZ()</text>
<text x="875" y="608">-</text><text x="879.5" y="608">minimumZ()</text>
<text x="875" y="615">-</text><text x="879.5" y="615">recalcSceneRect()</text>
<text x="875" y="622">-</text><text x="879.5" y="622">getNextItem()</text>
<text x="875" y="629">-</text><text x="879.5" y="629">createInitialProjection()</text>
<text x="875" y="636">-</text><text x="879.5" y="636">cubeToMosaic()</text>
<text x="875" y="643">-</text><text x="879.5" y="643">zOrderGreaterThan()</text>
<text x="875" y="650">-</text><text x="879.5" y="650">exportView()</text>
<text x="875" y="657">-</text><text x="879.5" y="657">saveList()</text>
<text x="875" y="664">-</text><text x="879.5" y="664">removeMosItem()</text>
<text x="875" y="671">-</text><text x="879.5" y="671">moveDownOne()</text>
<text x="875" y="678">-</text><text x="879.5" y="678">moveToBottom()</text>
<text x="875" y="685">-</text><text x="879.5" y="685">moveUpOne()</text>
<text x="875" y="692">-</text><text x="879.5" y="692">moveToTop()</text>
<text x="875" y="699">-</text><text x="879.5" y="699">fitInView()</text>
<text x="875" y="706">-</text><text x="879.5" y="706">onSelectionChanged()</text>
<text x="875" y="713">-</text><text x="879.5" y="713">onQueuedSelectionChanged()</text>
<text x="875" y="720">-</text><text x="879.5" y="720">configProjectionParameters()</text>
<text x="875" y="727">-</text><text x="879.5" y="727">quickConfigProjectionParameters()</text>
<text x="875" y="734">-</text><text x="879.5" y="734">sendVisibleRectChanged()</text>
</g>

<!-- ================= lower boxes ================= -->
<g>
<rect class="bl" x="317" y="555" width="40" height="22.4"/>
<line class="sl" x1="317" y1="563" x2="357" y2="563"/><line class="sl" x1="317" y1="570.2" x2="357" y2="570.2"/>
<text class="h" x="337" y="560.6">QGraphicsObject</text>

<rect class="bd" x="959.6" y="553" width="70.4" height="27.8"/>
<line class="sd" x1="959.6" y1="565.7" x2="1030" y2="565.7"/><line class="sd" x1="959.6" y1="573" x2="1030" y2="573"/>
<text x="962" y="558.2">QMap&lt; Isis::ControlPoint</text><text x="963" y="563.4"> *, QPair&lt; QPointF, QPointF &gt; &gt;</text>

<rect class="bd" x="1038" y="553" width="57" height="27.8"/>
<line class="sd" x1="1038" y1="565.7" x2="1095" y2="565.7"/><line class="sd" x1="1038" y1="573" x2="1095" y2="573"/>
<text x="1040" y="558.2">QMap&lt; QString, Isis</text><text x="1040" y="563.4">::UniversalGroundMap * &gt;</text>

<rect class="bg" x="939" y="757" width="64" height="92"/>
<line class="sd" x1="939" y1="764.7" x2="1003" y2="764.7"/><line class="sd" x1="939" y1="771.5" x2="1003" y2="771.5"/>
<text class="h" x="971" y="762.5">Isis::ControlNetGraphicsItem</text>
<text x="941" y="777.2">+</text><text x="946" y="777.2">ControlNetGraphicsItem()</text>
<text x="941" y="784.2">+</text><text x="946" y="784.2">~ControlNetGraphicsItem()</text>
<text x="941" y="791.2">+</text><text x="946" y="791.2">boundingRect()</text>
<text x="941" y="798.2">+</text><text x="946" y="798.2">paint()</text>
<text x="941" y="805.2">+</text><text x="946" y="805.2">snToFileName()</text>
<text x="941" y="812.2">+</text><text x="946" y="812.2">setArrowsVisible()</text>
<text x="941" y="819.2">+</text><text x="946" y="819.2">findClosestControlPoint()</text>
<text x="941" y="826.2">+</text><text x="946" y="826.2">buildChildren()</text>
<text x="941" y="832.3">+</text><text x="946" y="832.3">clearControlPointGraphics</text><text x="946" y="837.8">Item()</text>
<text x="941.5" y="844.7">-</text><text x="946" y="844.7">pointToScene()</text>
</g>
</svg>
</body></html>
